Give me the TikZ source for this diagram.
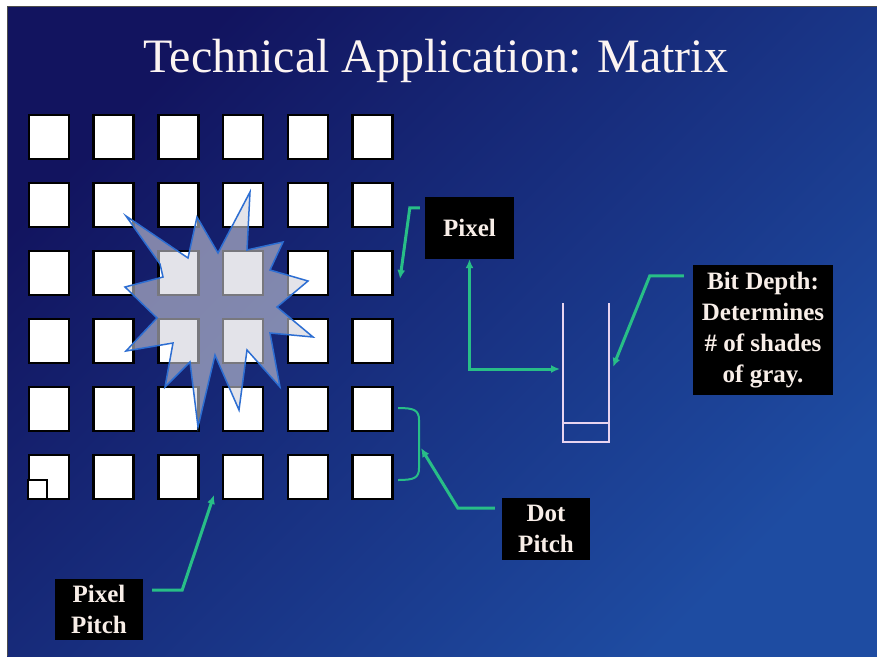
\documentclass[tikz,border=0pt]{standalone}
\usepackage{fontspec}
\setmainfont{Liberation Serif}
\usetikzlibrary{arrows.meta,calc}
\definecolor{bgA}{RGB}{18,20,95}
\definecolor{bgB}{RGB}{30,76,162}
\definecolor{connc}{RGB}{40,190,135}
\definecolor{starfill}{RGB}{208,208,218}
\definecolor{starline}{RGB}{45,110,210}
\definecolor{bucketc}{RGB}{232,212,240}
\definecolor{labeltext}{RGB}{248,238,232}
\definecolor{titlec}{RGB}{252,244,242}
\begin{document}
\begin{tikzpicture}[x=1pt,y=-1pt,
  ctip/.tip={Latex[length=9pt,width=8pt]},
  pxsq/.style={draw=black, line width=2.5pt, fill=white, minimum width=40pt, minimum height=44pt, inner sep=0pt},
  lbl/.style={fill=black, text=labeltext, inner sep=0pt, align=center, font=\fontsize{25}{31}\selectfont\bfseries},
  connline/.style={draw=connc, line width=3pt},
  bucketline/.style={draw=bucketc, line width=1.5pt}]
\useasboundingbox (0,0) rectangle (877,656);
\fill[white] (0,0) rectangle (877,656);
\shade[top color=bgA, bottom color=bgB, shading angle=45] (7,6) rectangle (877,656);
\draw[black!70, line width=1pt] (7,656) -- (7,6) -- (877,6);
% title
\node[anchor=base, text=titlec, font=\fontsize{48}{56}\selectfont] (title) at (436,72) {Technical Application: Matrix};
% pixel grid
\foreach \i in {1,...,6}
  \foreach \j in {1,...,6}
    \node[pxsq] (s\i\j) at ({49+64.7*(\i-1)},{137+68*(\j-1)}) {};
\node[draw=black, line width=2pt, fill=white, minimum size=19pt, inner sep=0pt] (small) at (37,489) {};
% starburst
\draw[starline, line width=1.5pt, fill=starfill, fill opacity=0.58]
  (250,192) -- (247,250) -- (283,242) -- (270,270) -- (308,281) -- (277,307)
  -- (313,337) -- (270,333) -- (280,387) -- (247,350) -- (239,410) -- (215,355)
  -- (198,427) -- (190,362) -- (165,387) -- (173,343) -- (126,351) -- (157,318)
  -- (125,287) -- (163,277) -- (160,264) -- (126,216) -- (188,258) -- (197,217)
  -- (218,253) -- cycle;
% bucket
\draw[bucketline] (563,303) -- (563,442) -- (609,442) -- (609,303);
\draw[bucketline] (563,423) -- (609,423);
\coordinate (bucketL) at (560,369);
\coordinate (bucketR) at (613,367);
% brace
\draw[connc, line width=2pt] (398,408) .. controls (414,408) and (419,410) .. (419,420)
  -- (419,468) .. controls (419,478) and (414,480) .. (398,480);
% labels
\node[lbl, minimum width=89pt, minimum height=62pt] (pixel) at (469.5,228) {Pixel};
\node[lbl, minimum width=140pt, minimum height=130pt] (bitdepth) at (763,330) {Bit Depth:\\Determines\\\# of shades\\of gray.};
\node[lbl, minimum width=88pt, minimum height=62pt] (dotpitch) at (546,529) {Dot\\Pitch};
\node[lbl, minimum width=88pt, minimum height=61pt] (pixelpitch) at (99,609.5) {Pixel\\Pitch};
% arrow targets
\coordinate (pxtip) at (400,279);
\coordinate (bracetip) at (421,448);
\coordinate (pptip) at (214,495);
% connectors
\draw[connline, ctip-ctip] (pixel.south) |- (bucketL);
\draw[connline, -ctip] ($(pixel.north west)+(-5,11)$) -- ++(-10,0) -- (pxtip);
\draw[connline, -ctip] ($(bitdepth.north west)+(-9,11)$) -- ++(-34,0) -- (bucketR);
\draw[connline, -ctip] ($(dotpitch.west)+(-7,-21)$) -- ++(-37,0) -- (bracetip);
\draw[connline, -ctip] ($(pixelpitch.east)+(9,-19.5)$) -- ++(30,0) -- (pptip);
\end{tikzpicture}
\end{document}
